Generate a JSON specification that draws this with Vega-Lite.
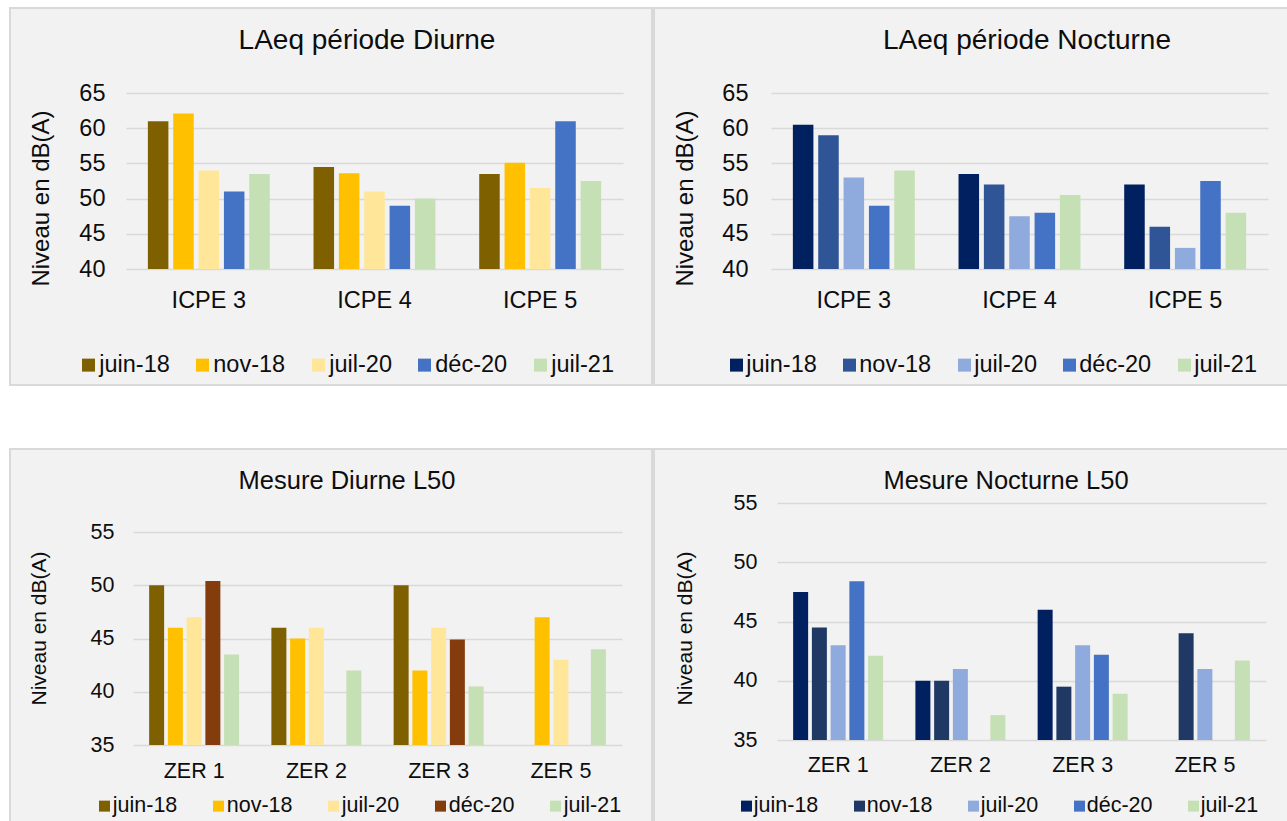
{
  "$schema": "https://vega.github.io/schema/vega-lite/v6.json",
  "background": "#ffffff",
  "padding": {"left": 9, "top": 7, "right": 0, "bottom": 0},
  "datasets": {
    "laeq_diurne": [
      {"point": "ICPE 3", "campagne": "juin-18", "niveau": 61},
      {"point": "ICPE 3", "campagne": "nov-18", "niveau": 62.1},
      {"point": "ICPE 3", "campagne": "juil-20", "niveau": 54},
      {"point": "ICPE 3", "campagne": "déc-20", "niveau": 51},
      {"point": "ICPE 3", "campagne": "juil-21", "niveau": 53.5},
      {"point": "ICPE 4", "campagne": "juin-18", "niveau": 54.5},
      {"point": "ICPE 4", "campagne": "nov-18", "niveau": 53.6},
      {"point": "ICPE 4", "campagne": "juil-20", "niveau": 51},
      {"point": "ICPE 4", "campagne": "déc-20", "niveau": 49},
      {"point": "ICPE 4", "campagne": "juil-21", "niveau": 50},
      {"point": "ICPE 5", "campagne": "juin-18", "niveau": 53.5},
      {"point": "ICPE 5", "campagne": "nov-18", "niveau": 55.1},
      {"point": "ICPE 5", "campagne": "juil-20", "niveau": 51.5},
      {"point": "ICPE 5", "campagne": "déc-20", "niveau": 61},
      {"point": "ICPE 5", "campagne": "juil-21", "niveau": 52.5}
    ],
    "laeq_nocturne": [
      {"point": "ICPE 3", "campagne": "juin-18", "niveau": 60.5},
      {"point": "ICPE 3", "campagne": "nov-18", "niveau": 59},
      {"point": "ICPE 3", "campagne": "juil-20", "niveau": 53},
      {"point": "ICPE 3", "campagne": "déc-20", "niveau": 49},
      {"point": "ICPE 3", "campagne": "juil-21", "niveau": 54},
      {"point": "ICPE 4", "campagne": "juin-18", "niveau": 53.5},
      {"point": "ICPE 4", "campagne": "nov-18", "niveau": 52},
      {"point": "ICPE 4", "campagne": "juil-20", "niveau": 47.5},
      {"point": "ICPE 4", "campagne": "déc-20", "niveau": 48},
      {"point": "ICPE 4", "campagne": "juil-21", "niveau": 50.5},
      {"point": "ICPE 5", "campagne": "juin-18", "niveau": 52},
      {"point": "ICPE 5", "campagne": "nov-18", "niveau": 46},
      {"point": "ICPE 5", "campagne": "juil-20", "niveau": 43},
      {"point": "ICPE 5", "campagne": "déc-20", "niveau": 52.5},
      {"point": "ICPE 5", "campagne": "juil-21", "niveau": 48}
    ],
    "l50_diurne": [
      {"point": "ZER 1", "campagne": "juin-18", "niveau": 50},
      {"point": "ZER 1", "campagne": "nov-18", "niveau": 46},
      {"point": "ZER 1", "campagne": "juil-20", "niveau": 47},
      {"point": "ZER 1", "campagne": "déc-20", "niveau": 50.4},
      {"point": "ZER 1", "campagne": "juil-21", "niveau": 43.5},
      {"point": "ZER 2", "campagne": "juin-18", "niveau": 46},
      {"point": "ZER 2", "campagne": "nov-18", "niveau": 45},
      {"point": "ZER 2", "campagne": "juil-20", "niveau": 46},
      {"point": "ZER 2", "campagne": "juil-21", "niveau": 42},
      {"point": "ZER 3", "campagne": "juin-18", "niveau": 50},
      {"point": "ZER 3", "campagne": "nov-18", "niveau": 42},
      {"point": "ZER 3", "campagne": "juil-20", "niveau": 46},
      {"point": "ZER 3", "campagne": "déc-20", "niveau": 44.9},
      {"point": "ZER 3", "campagne": "juil-21", "niveau": 40.5},
      {"point": "ZER 5", "campagne": "nov-18", "niveau": 47},
      {"point": "ZER 5", "campagne": "juil-20", "niveau": 43},
      {"point": "ZER 5", "campagne": "juil-21", "niveau": 44}
    ],
    "l50_nocturne": [
      {"point": "ZER 1", "campagne": "juin-18", "niveau": 47.5},
      {"point": "ZER 1", "campagne": "nov-18", "niveau": 44.5},
      {"point": "ZER 1", "campagne": "juil-20", "niveau": 43},
      {"point": "ZER 1", "campagne": "déc-20", "niveau": 48.4},
      {"point": "ZER 1", "campagne": "juil-21", "niveau": 42.1},
      {"point": "ZER 2", "campagne": "juin-18", "niveau": 40},
      {"point": "ZER 2", "campagne": "nov-18", "niveau": 40},
      {"point": "ZER 2", "campagne": "juil-20", "niveau": 41},
      {"point": "ZER 2", "campagne": "juil-21", "niveau": 37.1},
      {"point": "ZER 3", "campagne": "juin-18", "niveau": 46},
      {"point": "ZER 3", "campagne": "nov-18", "niveau": 39.5},
      {"point": "ZER 3", "campagne": "juil-20", "niveau": 43},
      {"point": "ZER 3", "campagne": "déc-20", "niveau": 42.2},
      {"point": "ZER 3", "campagne": "juil-21", "niveau": 38.9},
      {"point": "ZER 5", "campagne": "nov-18", "niveau": 44},
      {"point": "ZER 5", "campagne": "juil-20", "niveau": 41},
      {"point": "ZER 5", "campagne": "juil-21", "niveau": 41.7}
    ]
  },
  "columns": 2,
  "spacing": {"row": 64, "column": 2},
  "bounds": "flush",
  "resolve": {
    "scale": {"color": "independent", "x": "independent", "y": "independent", "xOffset": "independent"},
    "legend": {"color": "independent"}
  },
  "concat": [
    {
      "data": {"name": "laeq_diurne"},
      "width": 642,
      "height": 377,
      "title": {"text": "LAeq période Diurne", "fontSize": 28, "dx": 36, "offset": -47, "frame": "group"},
      "mark": {"type": "bar"},
      "encoding": {
        "x": {
          "field": "point", "type": "nominal", "sort": ["ICPE 3", "ICPE 4", "ICPE 5"],
          "scale": {"range": [116, 613], "paddingInner": 0.264, "paddingOuter": 0.132},
          "axis": {"title": null, "offset": -116, "labelPadding": 19, "labelFontSize": 23.5}
        },
        "xOffset": {
          "field": "campagne", "type": "nominal",
          "scale": {"domain": ["juin-18", "nov-18", "juil-20", "déc-20", "juil-21"], "paddingInner": 0.19, "paddingOuter": 0}
        },
        "y": {
          "field": "niveau", "type": "quantitative",
          "scale": {"domain": [40, 65], "range": [261, 85], "nice": false, "zero": false},
          "axis": {"values": [40, 45, 50, 55, 60, 65], "offset": -116, "labelPadding": 21, "labelFontSize": 23.5,
                   "title": "Niveau en dB(A)", "titleFontSize": 24, "titleX": -73, "titleY": 190}
        },
        "y2": {"datum": 40},
        "color": {
          "field": "campagne", "type": "nominal",
          "scale": {"domain": ["juin-18", "nov-18", "juil-20", "déc-20", "juil-21"],
                    "range": ["#7f6000", "#ffc000", "#ffe699", "#4472c4", "#c5e0b4"]},
          "legend": {"orient": "none", "legendX": 72, "legendY": 345, "direction": "horizontal",
                     "symbolSize": 169, "labelFontSize": 23.5, "columnPadding": 26,
                     "symbolOffset": -5.25, "labelOffset": -1}
        }
      }
    },
    {
      "data": {"name": "laeq_nocturne"},
      "width": 634,
      "height": 377,
      "title": {"text": "LAeq période Nocturne", "fontSize": 28, "dx": 56, "offset": -47, "frame": "group"},
      "mark": {"type": "bar"},
      "encoding": {
        "x": {
          "field": "point", "type": "nominal", "sort": ["ICPE 3", "ICPE 4", "ICPE 5"],
          "scale": {"range": [117, 614], "paddingInner": 0.264, "paddingOuter": 0.132},
          "axis": {"title": null, "offset": -116, "labelPadding": 19, "labelFontSize": 23.5}
        },
        "xOffset": {
          "field": "campagne", "type": "nominal",
          "scale": {"domain": ["juin-18", "nov-18", "juil-20", "déc-20", "juil-21"], "paddingInner": 0.19, "paddingOuter": 0}
        },
        "y": {
          "field": "niveau", "type": "quantitative",
          "scale": {"domain": [40, 65], "range": [261, 85], "nice": false, "zero": false},
          "axis": {"values": [40, 45, 50, 55, 60, 65], "offset": -117, "labelPadding": 23, "labelFontSize": 23.5,
                   "title": "Niveau en dB(A)", "titleFontSize": 24, "titleX": -74, "titleY": 190}
        },
        "y2": {"datum": 40},
        "color": {
          "field": "campagne", "type": "nominal",
          "scale": {"domain": ["juin-18", "nov-18", "juil-20", "déc-20", "juil-21"],
                    "range": ["#002060", "#2f5597", "#8faadc", "#4472c4", "#c5e0b4"]},
          "legend": {"orient": "none", "legendX": 76, "legendY": 345, "direction": "horizontal",
                     "symbolSize": 169, "labelFontSize": 23.5, "columnPadding": 26,
                     "symbolOffset": -5.25, "labelOffset": -2}
        }
      }
    },
    {
      "data": {"name": "l50_diurne"},
      "width": 642,
      "height": 373,
      "title": {"text": "Mesure Diurne L50", "fontSize": 25.5, "dx": 16, "offset": -45, "frame": "group"},
      "mark": {"type": "bar"},
      "encoding": {
        "x": {
          "field": "point", "type": "nominal", "sort": ["ZER 1", "ZER 2", "ZER 3", "ZER 5"],
          "scale": {"range": [123, 612], "paddingInner": 0.264, "paddingOuter": 0.132},
          "axis": {"title": null, "offset": -77, "labelPadding": 15.5, "labelFontSize": 21.5}
        },
        "xOffset": {
          "field": "campagne", "type": "nominal",
          "scale": {"domain": ["juin-18", "nov-18", "juil-20", "déc-20", "juil-21"], "paddingInner": 0.2, "paddingOuter": 0}
        },
        "y": {
          "field": "niveau", "type": "quantitative",
          "scale": {"domain": [35, 55], "range": [296, 83], "nice": false, "zero": false},
          "axis": {"values": [35, 40, 45, 50, 55], "offset": -123, "labelPadding": 19, "labelFontSize": 21.5,
                   "title": "Niveau en dB(A)", "titleFontSize": 21, "titleX": -84, "titleY": 179}
        },
        "y2": {"datum": 35},
        "color": {
          "field": "campagne", "type": "nominal",
          "scale": {"domain": ["juin-18", "nov-18", "juil-20", "déc-20", "juil-21"],
                    "range": ["#7f6000", "#ffc000", "#ffe699", "#843c0c", "#c5e0b4"]},
          "legend": {"orient": "none", "legendX": 89, "legendY": 346, "direction": "horizontal",
                     "symbolSize": 121, "labelFontSize": 21.5, "columnPadding": 35,
                     "symbolOffset": -5.25, "labelOffset": -2.5}
        }
      }
    },
    {
      "data": {"name": "l50_nocturne"},
      "width": 634,
      "height": 373,
      "title": {"text": "Mesure Nocturne L50", "fontSize": 25.5, "dx": 35, "offset": -45, "frame": "group"},
      "mark": {"type": "bar"},
      "encoding": {
        "x": {
          "field": "point", "type": "nominal", "sort": ["ZER 1", "ZER 2", "ZER 3", "ZER 5"],
          "scale": {"range": [123, 612], "paddingInner": 0.264, "paddingOuter": 0.132},
          "axis": {"title": null, "offset": -82, "labelPadding": 14.5, "labelFontSize": 21.5}
        },
        "xOffset": {
          "field": "campagne", "type": "nominal",
          "scale": {"domain": ["juin-18", "nov-18", "juil-20", "déc-20", "juil-21"], "paddingInner": 0.2, "paddingOuter": 0}
        },
        "y": {
          "field": "niveau", "type": "quantitative",
          "scale": {"domain": [35, 55], "range": [291, 54], "nice": false, "zero": false},
          "axis": {"values": [35, 40, 45, 50, 55], "offset": -123, "labelPadding": 20, "labelFontSize": 21.5,
                   "title": "Niveau en dB(A)", "titleFontSize": 21, "titleX": -82, "titleY": 179}
        },
        "y2": {"datum": 35},
        "color": {
          "field": "campagne", "type": "nominal",
          "scale": {"domain": ["juin-18", "nov-18", "juil-20", "déc-20", "juil-21"],
                    "range": ["#002060", "#203864", "#8faadc", "#4472c4", "#c5e0b4"]},
          "legend": {"orient": "none", "legendX": 87, "legendY": 346, "direction": "horizontal",
                     "symbolSize": 121, "labelFontSize": 21.5, "columnPadding": 35,
                     "symbolOffset": -5.25, "labelOffset": -3.5}
        }
      }
    }
  ],
  "config": {
    "font": "Liberation Sans",
    "view": {"fill": "#f2f2f2", "stroke": "#d9d9d9", "strokeWidth": 2},
    "title": {"fontWeight": "normal", "color": "#0d0d0d", "anchor": "middle"},
    "axis": {
      "domain": false, "ticks": false, "grid": false, "labelAngle": 0,
      "labelColor": "#0d0d0d", "titleColor": "#0d0d0d", "titleFontWeight": "normal"
    },
    "axisY": {"grid": true, "gridColor": "#d9d9d9", "gridWidth": 1.5},
    "legend": {
      "title": null, "padding": 0, "symbolType": "square", "symbolStrokeWidth": 0,
      "symbolOpacity": 1, "labelColor": "#0d0d0d", "labelLimit": 300
    }
  }
}
